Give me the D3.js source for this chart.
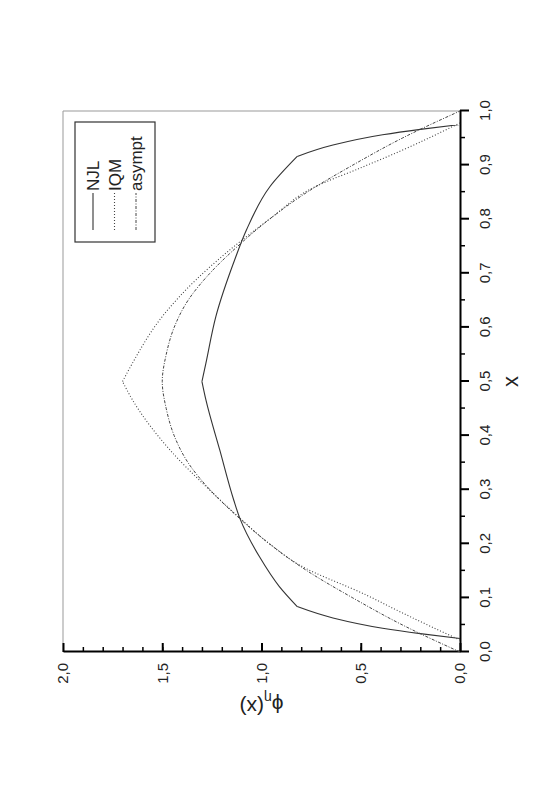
<!DOCTYPE html>
<html>
<head>
<meta charset="utf-8">
<script src="https://cdn.jsdelivr.net/npm/d3@7/dist/d3.min.js"></script>
<style>
  body { margin: 0; background: #fff; }
  svg { display: block; font-family: "Liberation Sans", Arial, sans-serif; }
</style>
</head>
<body>
<div id="chart"></div>
<script>
// data (x in [0,1], phi values)
var xTickValues = [0, 0.1, 0.2, 0.3, 0.4, 0.5, 0.6, 0.7, 0.8, 0.9, 1.0];
var yTickValues = [0, 0.5, 1.0, 1.5, 2.0];
var seriesNames = ["NJL", "IQM", "asympt"];

var njlX = [0.025, 0.034, 0.044, 0.063, 0.084, 0.121, 0.176, 0.248, 0.281, 0.373, 0.466, 0.5,
            0.534, 0.62, 0.725, 0.78, 0.86, 0.916, 0.937, 0.956, 0.966, 0.975];
var njlY = [0, 0.20, 0.39, 0.64, 0.82, 0.91, 1.01, 1.11, 1.14, 1.21, 1.28, 1.30,
            1.28, 1.23, 1.135, 1.076, 0.958, 0.82, 0.64, 0.39, 0.20, 0];
var njlCorners = [0.084, 0.5, 0.916];

var iqmX = [0.022, 0.074, 0.105, 0.161, 0.2, 0.248, 0.299, 0.373, 0.466, 0.5,
            0.534, 0.62, 0.688, 0.737, 0.8, 0.86, 0.895, 0.926, 0.978];
var iqmY = [0, 0.30, 0.47, 0.81, 0.96, 1.11, 1.26, 1.46, 1.65, 1.70,
            1.65, 1.50, 1.33, 1.18, 0.96, 0.73, 0.50, 0.30, 0];
var iqmCorners = [0.5];

var asyX = [0, 0.05, 0.1, 0.15, 0.2, 0.25, 0.3, 0.35, 0.4, 0.45, 0.5,
            0.55, 0.6, 0.65, 0.7, 0.75, 0.8, 0.85, 0.9, 0.95, 1.0];
var asyY = [0, 0.29, 0.54, 0.77, 0.96, 1.12, 1.26, 1.37, 1.44, 1.48, 1.50,
            1.48, 1.44, 1.37, 1.26, 1.12, 0.96, 0.77, 0.54, 0.29, 0];
var asyCorners = [];

var svgWidth = 553;
var svgHeight = 793;

// the whole figure is printed landscape, turned a quarter turn
var width = 541;
var height = 397;
var origin = { x: 63, y: 652 };

var svg = d3.select("#chart")
  .append("svg")
  .attr("width", svgWidth)
  .attr("height", svgHeight);

var chartGroup = svg.append("g")
  .attr("transform", `translate(${origin.x}, ${origin.y}) rotate(-90)`);

var xScale = d3.scaleLinear().domain([0, 1]).range([0, width]);
var yScale = d3.scaleLinear().domain([0, 2]).range([height, 0]);

var comma = function(d) { return d3.format(".1f")(d).replace(".", ","); };

// frame (top + right, thin gray)
chartGroup.append("path")
  .attr("d", `M0,0H${width}V${height}`)
  .attr("fill", "none")
  .attr("stroke", "#999")
  .attr("stroke-width", 1);

// minor ticks
chartGroup.append("g")
  .attr("transform", `translate(0, ${height})`)
  .call(d3.axisBottom(xScale).tickValues(d3.range(0.05, 1, 0.1)).tickSize(5).tickFormat(""))
  .call(g => g.select(".domain").remove())
  .selectAll("line").attr("stroke", "#000").attr("stroke-width", 1.5);

chartGroup.append("g")
  .call(d3.axisLeft(yScale).tickValues(d3.range(0.1, 2, 0.1)).tickSize(-5).tickFormat(""))
  .call(g => g.select(".domain").remove())
  .selectAll("line").attr("stroke", "#000").attr("stroke-width", 1.5);

// major axes
var xAxis = chartGroup.append("g")
  .attr("transform", `translate(0, ${height})`)
  .call(d3.axisBottom(xScale).tickValues(xTickValues).tickSize(9).tickSizeOuter(0).tickPadding(10).tickFormat(comma));

var yAxis = chartGroup.append("g")
  .call(d3.axisLeft(yScale).tickValues(yTickValues).tickSize(-9).tickSizeOuter(0).tickPadding(11).tickFormat(comma));

[xAxis, yAxis].forEach(function(ax) {
  ax.select(".domain").attr("stroke", "#000").attr("stroke-width", 2);
  ax.selectAll(".tick line").attr("stroke", "#000").attr("stroke-width", 2);
  ax.selectAll(".tick text")
    .attr("font-family", "'Liberation Sans', Arial, sans-serif")
    .attr("font-size", "15px")
    .attr("fill", "#222");
});

// curves
function pieces(xs, ys, corners) {
  var out = [], cur = [];
  xs.forEach(function(x, i) {
    cur.push([x, ys[i]]);
    if (corners.indexOf(x) >= 0 && cur.length > 1) {
      out.push(cur);
      cur = [[x, ys[i]]];
    }
  });
  if (cur.length > 1) out.push(cur);
  return out;
}

var line = d3.line()
  .x(d => xScale(d[0]))
  .y(d => yScale(d[1]))
  .curve(d3.curveMonotoneX);

var styles = [
  { dash: null, color: "#333", w: 1.1 },
  { dash: "1,2", color: "#444", w: 1.1 },
  { dash: "3,1.5,1,1.5", color: "#444", w: 1 }
];

var seriesData = [
  pieces(njlX, njlY, njlCorners),
  pieces(iqmX, iqmY, iqmCorners),
  pieces(asyX, asyY, asyCorners)
];

seriesData.forEach(function(segs, i) {
  chartGroup.append("g").selectAll("path")
    .data(segs)
    .enter()
    .append("path")
    .attr("d", line)
    .attr("fill", "none")
    .attr("stroke", styles[i].color)
    .attr("stroke-width", styles[i].w)
    .attr("stroke-dasharray", styles[i].dash);
});

// legend
var legend = chartGroup.append("g")
  .attr("transform", "translate(410, 12)");

legend.append("rect")
  .attr("width", 120)
  .attr("height", 80)
  .attr("fill", "#fff")
  .attr("stroke", "#333")
  .attr("stroke-width", 1.2);

var rows = legend.selectAll(".row")
  .data(seriesNames)
  .enter()
  .append("g")
  .attr("transform", (d, i) => `translate(0, ${18 + i * 21.5})`);

rows.append("line")
  .attr("x1", 12).attr("x2", 49)
  .attr("stroke", (d, i) => styles[i].color)
  .attr("stroke-width", (d, i) => styles[i].w)
  .attr("stroke-dasharray", (d, i) => styles[i].dash);

rows.append("text")
  .attr("x", 51)
  .attr("dy", "0.36em")
  .attr("font-size", "17px")
  .attr("fill", "#222")
  .text(d => d);

// axis titles
chartGroup.append("text")
  .attr("x", width / 2)
  .attr("y", height + 58)
  .attr("text-anchor", "middle")
  .attr("font-size", "22px")
  .attr("fill", "#222")
  .text("x");

var yTitle = chartGroup.append("text")
  .attr("transform", `translate(-53, ${height / 2}) rotate(-90)`)
  .attr("text-anchor", "middle")
  .attr("dy", "0.35em")
  .attr("font-size", "21px")
  .attr("fill", "#222");
yTitle.append("tspan").text("\u03d5");
yTitle.append("tspan").attr("font-size", "14px").attr("dy", "0.3em").text("\u03b7");
yTitle.append("tspan").attr("dy", "-0.3em").text("(x)");
</script>
</body>
</html>
